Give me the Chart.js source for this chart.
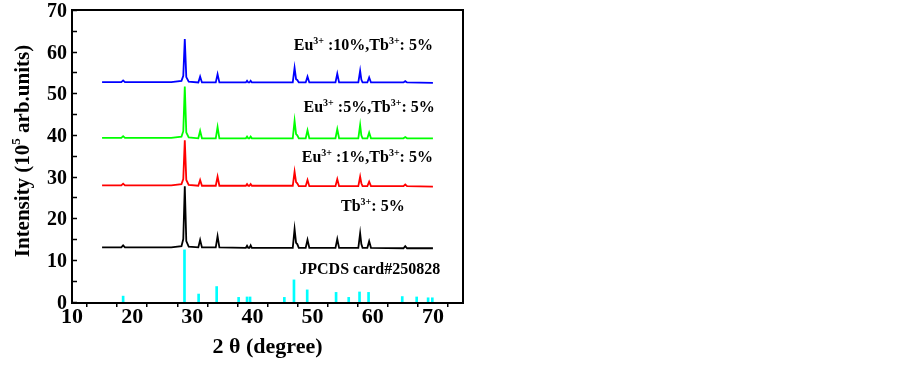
<!DOCTYPE html>
<html>
<head>
<meta charset="utf-8">
<script src="https://cdn.jsdelivr.net/npm/chart.js@4.4.1/dist/chart.umd.min.js"></script>
<style>
  html, body { margin: 0; padding: 0; background: #fff; }
  canvas { display: block; }
</style>
</head>
<body>
<canvas id="xrd" width="903" height="366"></canvas>
<script>
// 2 theta positions shared by the four measured patterns
var twoTheta = [15, 18.2, 18.5, 18.8, 26.5, 28.2, 28.5, 28.75, 29.0, 29.4,
    31.0, 31.3, 31.6, 33.9, 34.2, 34.5, 38.9, 39.1, 39.3, 39.5, 39.7, 39.9,
    46.7, 47.0, 47.25, 47.45, 47.7, 48.85, 49.15, 49.45, 53.8, 54.1, 54.4,
    57.6, 57.9, 58.1, 58.3, 59.1, 59.4, 59.7, 65.1, 65.4, 65.7, 70];

var tb5 = [13.0, 13.0, 13.5, 13.0, 13.0, 13.3, 15.0, 27.7, 14.5, 13.2,
    13.0, 14.8, 13.0, 13.0, 15.7, 13.0, 12.9, 13.4, 12.9, 12.9, 13.5, 12.9,
    12.9, 17.4, 14.1, 13.8, 12.9, 12.9, 14.8, 12.9, 12.9, 15.0, 12.9,
    12.9, 16.4, 13.8, 12.9, 12.9, 14.5, 12.9, 12.8, 13.3, 12.8, 12.8];

var eu1 = [27.9, 27.9, 28.3, 27.9, 27.9, 28.2, 29.4, 38.7, 29.2, 28.0,
    27.8, 29.2, 27.8, 27.8, 30.0, 27.8, 27.8, 28.2, 27.8, 27.8, 28.2, 27.8,
    27.8, 31.2, 28.7, 28.4, 27.7, 27.7, 29.2, 27.7, 27.7, 29.4, 27.7,
    27.7, 30.0, 28.4, 27.7, 27.7, 28.8, 27.7, 27.7, 28.1, 27.7, 27.6];

var eu5 = [39.3, 39.3, 39.7, 39.3, 39.3, 39.6, 40.9, 51.6, 40.6, 39.4,
    39.2, 41.0, 39.2, 39.2, 41.9, 39.2, 39.2, 39.6, 39.2, 39.2, 39.6, 39.2,
    39.2, 43.4, 40.2, 39.9, 39.2, 39.2, 41.1, 39.2, 39.2, 41.4, 39.2,
    39.2, 42.4, 39.9, 39.2, 39.2, 40.6, 39.2, 39.2, 39.5, 39.2, 39.2];

var eu10 = [52.7, 52.7, 53.1, 52.7, 52.7, 53.0, 54.2, 63.0, 53.9, 52.8,
    52.6, 54.0, 52.6, 52.6, 54.6, 52.6, 52.6, 53.0, 52.6, 52.6, 53.0, 52.6,
    52.6, 56.1, 53.4, 53.2, 52.6, 52.6, 54.0, 52.6, 52.6, 54.7, 52.6,
    52.6, 55.4, 53.3, 52.6, 52.6, 53.8, 52.6, 52.6, 52.9, 52.6, 52.5];

// reference card lines
var cardPos = [18.5, 28.7, 31.05, 34.05, 37.7, 39.1, 39.6, 45.3, 46.9, 49.1,
    53.9, 56.0, 57.8, 59.3, 64.9, 67.3, 69.2, 69.9];
var cardInt = [1.3, 12.4, 1.8, 3.6, 1.0, 1.1, 1.1, 1.0, 5.2, 2.8,
    2.2, 1.0, 2.3, 2.2, 1.2, 1.1, 0.9, 0.9];

var xTicks = [10, 15, 20, 25, 30, 35, 40, 45, 50, 55, 60, 65, 70, 75];
var yTicks = [0, 5, 10, 15, 20, 25, 30, 35, 40, 45, 50, 55, 60, 65, 70];

// labels written next to the curves (^...^ = superscript)
var noteText = ['Eu^3+^ :10%,Tb^3+^: 5%', 'Eu^3+^ :5%,Tb^3+^: 5%',
    'Eu^3+^ :1%,Tb^3+^: 5%', 'Tb^3+^: 5%', 'JPCDS card#250828'];
var noteX = [70.0, 70.3, 70.0, 65.3, 71.2];
var noteY = [61.6, 46.7, 34.7, 22.9, 7.8];

var serif = '"Liberation Serif", "Times New Roman", serif';

function pts(ys) {
    return twoTheta.map(function(x, i) { return {x: x, y: ys[i]}; });
}

function textWidth(ctx, str, size) {
    var w = 0;
    str.split('^').forEach(function(p, i) {
        ctx.font = 'bold ' + (i % 2 ? Math.round(size * 0.62) : size) + 'px ' + serif;
        w += ctx.measureText(p).width;
    });
    return w;
}

// draws text with ^sup^ parts; anchor = right end, vertical middle
function richText(ctx, str, xr, ym, size) {
    var x = xr - textWidth(ctx, str, size);
    var base = ym + size * 0.33;
    ctx.textBaseline = 'alphabetic';
    ctx.textAlign = 'left';
    str.split('^').forEach(function(p, i) {
        ctx.font = 'bold ' + (i % 2 ? Math.round(size * 0.62) : size) + 'px ' + serif;
        ctx.fillText(p, x, i % 2 ? base - size * 0.42 : base);
        x += ctx.measureText(p).width;
    });
}

var extras = {
    id: 'extras',
    afterDraw: function(chart) {
        var ctx = chart.ctx, a = chart.chartArea;
        var xs = chart.scales.x, ys = chart.scales.y;
        ctx.save();
        ctx.strokeStyle = '#000';
        ctx.lineWidth = 2;
        ctx.strokeRect(a.left, a.top, a.right - a.left, a.bottom - a.top);
        // inward ticks on the y axis
        ctx.lineWidth = 1.5;
        ys.ticks.forEach(function(t) {
            var py = Math.round(ys.getPixelForValue(t.value)) + 0.5;
            ctx.beginPath();
            ctx.moveTo(a.left, py);
            ctx.lineTo(a.left + 5, py);
            ctx.stroke();
        });
        ctx.fillStyle = '#000';
        noteText.forEach(function(s, i) {
            richText(ctx, s, xs.getPixelForValue(noteX[i]), ys.getPixelForValue(noteY[i]), 16);
        });
        // y axis title
        var t = 'Intensity (10^5^ arb.units)';
        ctx.translate(22, 151);
        ctx.rotate(-Math.PI / 2);
        richText(ctx, t, textWidth(ctx, t, 21) / 2, 0, 21);
        ctx.restore();
    }
};

function noPad(s) {
    s.paddingTop = 0; s.paddingBottom = 0; s.paddingLeft = 0; s.paddingRight = 0;
}

var lineStyle = {borderWidth: 1.8, pointRadius: 0, tension: 0, fill: false};

var ctx = document.getElementById('xrd').getContext('2d');
var chart = new Chart(ctx, {
    type: 'line',
    data: {
        datasets: [
            {type: 'bar', label: 'JPCDS card#250828',
             data: cardPos.map(function(x, i) { return {x: x, y: cardInt[i]}; }),
             backgroundColor: '#00ffff', barThickness: 2, base: -0.35, grouped: false},
            Object.assign({label: 'Tb5', data: pts(tb5), borderColor: '#000000'}, lineStyle),
            Object.assign({label: 'Eu1', data: pts(eu1), borderColor: '#ff0000'}, lineStyle),
            Object.assign({label: 'Eu5', data: pts(eu5), borderColor: '#00ff00'}, lineStyle),
            Object.assign({label: 'Eu10', data: pts(eu10), borderColor: '#0000ff'}, lineStyle)
        ]
    },
    options: {
        responsive: false,
        animation: false,
        devicePixelRatio: 1,
        layout: {autoPadding: false, padding: {left: 0, top: 10, right: 440, bottom: 0}},
        plugins: {legend: {display: false}, tooltip: {enabled: false}},
        scales: {
            x: {
                type: 'linear', min: 10, max: 75, offset: false,
                afterBuildTicks: function(s) { s.ticks = xTicks.map(function(v) { return {value: v}; }); },
                afterFit: function(s) { s.height = 63; noPad(s); },
                ticks: {
                    autoSkip: false, maxRotation: 0, padding: -3, color: '#000',
                    font: {family: serif, size: 22, weight: 'bold'},
                    callback: function(v) { return (v % 10 === 0 && v < 75) ? v : ''; }
                },
                grid: {drawOnChartArea: false, drawTicks: true, tickLength: 4, color: '#000', lineWidth: 1.5},
                border: {display: true, color: '#000', width: 2},
                title: {display: true, text: '2 θ (degree)', color: '#000',
                        font: {family: serif, size: 22, weight: 'bold'}, padding: {top: 0, bottom: 5}}
            },
            y: {
                type: 'linear', min: -0.35, max: 70,
                afterBuildTicks: function(s) { s.ticks = yTicks.map(function(v) { return {value: v}; }); },
                afterFit: function(s) { s.width = 72; noPad(s); },
                ticks: {
                    autoSkip: false, padding: 5, labelOffset: 2, color: '#000',
                    font: {family: serif, size: 20, weight: 'bold'},
                    callback: function(v) { return v % 10 === 0 ? v : ''; }
                },
                grid: {display: false, drawTicks: false},
                border: {display: true, color: '#000', width: 2}
            }
        }
    },
    plugins: [extras]
});
</script>
</body>
</html>
